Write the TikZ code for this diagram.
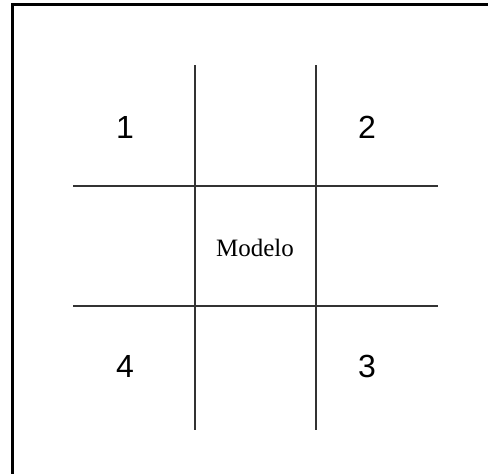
\documentclass[tikz,border=0pt]{standalone}
\usepackage{fontspec}
\setmainfont{Liberation Serif}
\newfontfamily\digitfont{Liberation Sans}
\usepackage{tikz}

\begin{document}
\begin{tikzpicture}[x=1pt,y=-1pt]
\useasboundingbox (0,0) rectangle (488,474);
    % frame (top and left only)
    \draw[-,line width=3pt] (488,4) -- (12,4) -- (12,474);
    %
    \draw[-,line width=1.5pt,black!80] (195,65) -- (195,430);
    \draw[-,line width=1.5pt,black!80] (316,65) -- (316,430);
    \draw[-,line width=1.5pt,black!80] (73,186) -- (438,186);
    \draw[-,line width=1.5pt,black!80] (73,306) -- (438,306);
    %
    \node (q1) at (125,127) {\digitfont\fontsize{32}{32}\selectfont 1};
    \node (q2) at (367,127) {\digitfont\fontsize{32}{32}\selectfont 2};
    \node (q3) at (367,366) {\digitfont\fontsize{32}{32}\selectfont 3};
    \node (q4) at (125,366) {\digitfont\fontsize{32}{32}\selectfont 4};
    \node (modelo) at (255,248) {\fontsize{25}{25}\selectfont Modelo};
\end{tikzpicture}
\end{document}
